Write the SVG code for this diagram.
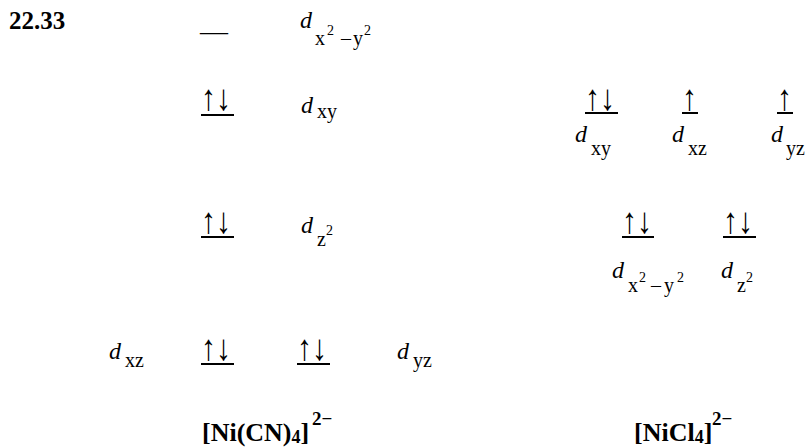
<svg xmlns="http://www.w3.org/2000/svg" width="805" height="448" viewBox="0 0 805 448">
<style>
text{font-family:"Liberation Serif","Times New Roman",serif;fill:#000}
.title{font-weight:bold;font-size:25px}
.d{font-style:italic;font-size:24px}
.sub{font-size:20px}
.sup{font-size:14px}
.arr{font-size:30px}
.ul{stroke:#000;stroke-width:2}
.lbl{font-weight:bold;font-size:26px}
.lsub{font-weight:bold;font-size:18px}
.lsup{font-weight:bold;font-size:19px}
</style>
<rect width="805" height="448" fill="#fff"/>
<text class="title" x="9" y="29">22.33</text>

<g id="ni-cn4">
  <g id="cn-dx2y2">
    <text x="200" y="40" style="font-size:28px">—</text>
    <text class="d" x="300" y="28">d</text>
    <text class="sub" x="315" y="45">x</text>
    <text class="sup" x="327" y="35">2</text>
    <text class="sub" x="341" y="45">–</text>
    <text class="sub" x="353" y="45">y</text>
    <text class="sup" x="364" y="35">2</text>
  </g>
  <g id="cn-dxy">
    <text class="arr" transform="translate(201,110) scale(1,1.22)">↑↓</text>
    <line class="ul" x1="201" y1="115" x2="234" y2="115"/>
    <text class="d" x="301" y="113">d</text>
    <text class="sub" x="317" y="118">xy</text>
  </g>
  <g id="cn-dz2">
    <text class="arr" transform="translate(201,233) scale(1,1.22)">↑↓</text>
    <line class="ul" x1="201" y1="237" x2="234" y2="237"/>
    <text class="d" x="301" y="233">d</text>
    <text class="sub" x="317" y="246">z</text>
    <text class="sup" x="326" y="235">2</text>
  </g>
  <g id="cn-dxz-dyz">
    <text class="d" x="109" y="359">d</text>
    <text class="sub" x="125" y="367">xz</text>
    <text class="arr" transform="translate(201,360) scale(1,1.22)">↑↓</text>
    <line class="ul" x1="201" y1="364" x2="234" y2="364"/>
    <text class="arr" transform="translate(297,360) scale(1,1.22)">↑↓</text>
    <line class="ul" x1="297" y1="364" x2="330" y2="364"/>
    <text class="d" x="397" y="359">d</text>
    <text class="sub" x="413" y="367">yz</text>
  </g>
  <g id="cn-label">
    <text class="lbl" x="202" y="441">[Ni(CN)<tspan class="lsub" dy="2">4</tspan><tspan dy="-2">]</tspan></text>
    <text class="lsup" x="312" y="425">2−</text>
  </g>
</g>

<g id="nicl4">
  <g id="cl-dxy">
    <text class="arr" transform="translate(585,110) scale(1,1.22)">↑↓</text>
    <line class="ul" x1="585" y1="113" x2="618" y2="113"/>
    <text class="d" x="575" y="142">d</text>
    <text class="sub" x="591" y="155">xy</text>
  </g>
  <g id="cl-dxz">
    <text class="arr" transform="translate(682,110) scale(1,1.22)">↑</text>
    <line class="ul" x1="682" y1="113" x2="698" y2="113"/>
    <text class="d" x="672" y="142">d</text>
    <text class="sub" x="688" y="155">xz</text>
  </g>
  <g id="cl-dyz">
    <text class="arr" transform="translate(777,110) scale(1,1.22)">↑</text>
    <line class="ul" x1="777" y1="113" x2="793" y2="113"/>
    <text class="d" x="771" y="142">d</text>
    <text class="sub" x="786" y="155">yz</text>
  </g>
  <g id="cl-dx2y2">
    <text class="arr" transform="translate(622,233) scale(1,1.22)">↑↓</text>
    <line class="ul" x1="622" y1="237" x2="654" y2="237"/>
    <text class="d" x="612" y="278">d</text>
    <text class="sub" x="628" y="292">x</text>
    <text class="sup" x="639" y="282">2</text>
    <text class="sub" x="651" y="292">–</text>
    <text class="sub" x="664" y="292">y</text>
    <text class="sup" x="677" y="282">2</text>
  </g>
  <g id="cl-dz2">
    <text class="arr" transform="translate(723,233) scale(1,1.22)">↑↓</text>
    <line class="ul" x1="723" y1="237" x2="756" y2="237"/>
    <text class="d" x="721" y="278">d</text>
    <text class="sub" x="737" y="292">z</text>
    <text class="sup" x="746" y="282">2</text>
  </g>
  <g id="cl-label">
    <text class="lbl" x="634" y="441">[NiCl<tspan class="lsub" dy="2">4</tspan><tspan dy="-2">]</tspan></text>
    <text class="lsup" x="712" y="425">2−</text>
  </g>
</g>
</svg>
